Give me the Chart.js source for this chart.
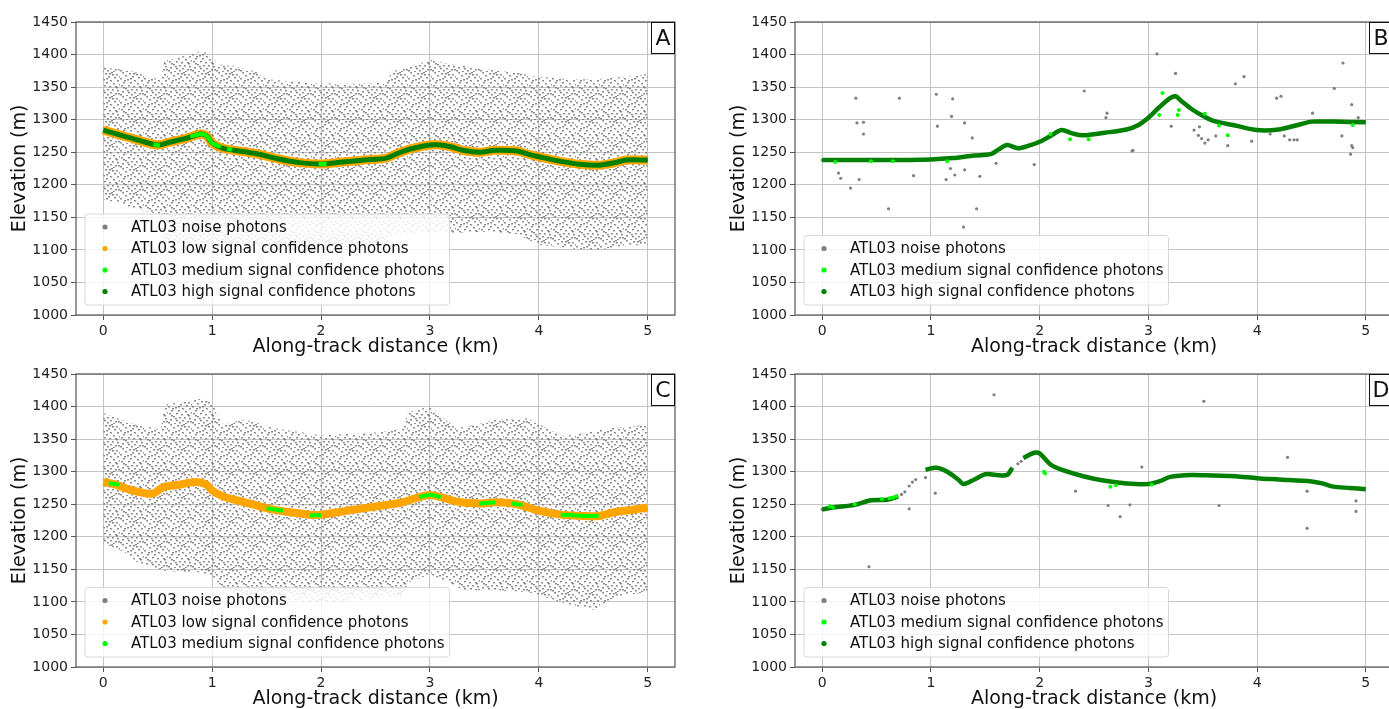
<!DOCTYPE html>
<html>
<head>
<meta charset="utf-8">
<script src="https://cdn.jsdelivr.net/npm/chart.js@4.4.1/dist/chart.umd.min.js"></script>
<style>
  html, body { margin: 0; padding: 0; background: #fff; overflow: hidden; width: 1389px; height: 709px; position: relative; }
  canvas { position: absolute; }
  #panel-a { left: 0; top: 0; }
  #panel-b { left: 719px; top: 0; }
  #panel-c { left: 0; top: 352px; }
  #panel-d { left: 719px; top: 352px; }
</style>
</head>
<body>
<canvas id="panel-a" width="694" height="362"></canvas>
<canvas id="panel-b" width="680" height="362"></canvas>
<canvas id="panel-c" width="694" height="362"></canvas>
<canvas id="panel-d" width="680" height="362"></canvas>
<script>
// axes
const distTicks = [0, 1, 2, 3, 4, 5];
const elevTicks = [1000, 1050, 1100, 1150, 1200, 1250, 1300, 1350, 1400, 1450];

// panel A: noise cloud envelope + surface
const aNoiseKm = [0, 0.25, 0.5, 0.53, 0.56, 0.75, 0.9, 1.0, 1.05, 1.2, 1.4, 1.5, 1.8, 2.0, 2.3, 2.6, 2.65, 2.8, 3.0, 3.2, 3.5, 3.8, 4.0, 4.3, 4.5, 4.8, 5.0];
const aNoiseTop = [1380, 1375, 1362, 1362, 1390, 1398, 1406, 1398, 1385, 1382, 1374, 1362, 1358, 1356, 1355, 1357, 1374, 1380, 1392, 1385, 1378, 1372, 1366, 1362, 1362, 1366, 1370];
const aNoiseBottom = [1178, 1165, 1155, 1150, 1110, 1108, 1108, 1108, 1105, 1103, 1103, 1100, 1102, 1104, 1104, 1106, 1122, 1126, 1128, 1126, 1128, 1124, 1108, 1102, 1100, 1106, 1108];
const aSurfKm = [0, 0.25, 0.5, 0.6, 0.75, 0.9, 0.95, 1.0, 1.1, 1.2, 1.4, 1.6, 1.8, 2.0, 2.2, 2.4, 2.6, 2.7, 2.8, 2.9, 3.0, 3.1, 3.2, 3.3, 3.45, 3.6, 3.8, 3.9, 4.0, 4.2, 4.4, 4.55, 4.7, 4.8, 5.0];
const aHighElev = [1284, 1272, 1261, 1265, 1271, 1278, 1275, 1264, 1256, 1253, 1248, 1240, 1234, 1232, 1235, 1238, 1241, 1248, 1254, 1258, 1261, 1261, 1258, 1253, 1250, 1253, 1252, 1247, 1243, 1236, 1231, 1230, 1234, 1238, 1238];
const aMedKm = [0.46, 0.52, 0.56, 0.8, 0.9, 0.95, 1.0, 1.08, 1.12, 1.14, 1.18, 1.22, 1.98, 2.05];
const aMedElev = [1262, 1260, null, 1274, 1278, 1275, 1264, 1258, null, 1255, 1254, null, 1232, 1232];

// panel B
const bSurfKm = [0, 0.5, 1.0, 1.2, 1.4, 1.55, 1.62, 1.7, 1.8, 1.9, 2.0, 2.1, 2.2, 2.3, 2.4, 2.6, 2.8, 2.9, 3.0, 3.1, 3.2, 3.25, 3.3, 3.4, 3.5, 3.6, 3.8, 4.0, 4.2, 4.4, 4.5, 4.7, 5.0];
const bHighElev = [1238, 1238, 1239, 1241, 1245, 1247, 1254, 1261, 1256, 1260, 1266, 1275, 1284, 1279, 1276, 1280, 1285, 1291, 1303, 1319, 1333, 1336, 1329, 1316, 1306, 1298, 1291, 1284, 1285, 1293, 1297, 1297, 1296];
const bMedKm = [0.12, 0.45, 0.65, 1.15, 2.1, 2.28, 2.45, 3.1, 3.13, 3.27, 3.28, 3.52, 3.65, 3.73, 4.88];
const bMedElev = [1235, 1236, 1236, 1236, 1278, 1270, 1270, 1307, 1341, 1307, 1315, 1309, 1291, 1276, 1292];
const bNoiseKm = [0, 0.15, 0.17, 0.26, 0.31, 0.32, 0.38, 0.38, 0.34, 0.61, 0.71, 0.84, 1.05, 1.06, 1.14, 1.18, 1.19, 1.2, 1.22, 1.31, 1.31, 1.3, 1.38, 1.42, 1.45, 1.6, 1.95, 2.41, 2.62, 2.61, 2.86, 2.85, 3.08, 3.25, 3.21, 3.42, 3.47, 3.46, 3.49, 3.52, 3.55, 3.62, 3.73, 3.8, 3.88, 3.95, 4.12, 4.18, 4.22, 4.25, 4.3, 4.34, 4.37, 4.51, 4.71, 4.78, 4.79, 4.87, 4.87, 4.88, 4.86, 4.93];
const bNoiseElev = [1238, 1218, 1210, 1195, 1333, 1295, 1296, 1278, 1208, 1163, 1333, 1214, 1339, 1290, 1208, 1225, 1305, 1332, 1215, 1295, 1223, 1135, 1272, 1163, 1213, 1233, 1231, 1344, 1310, 1303, 1253, 1252, 1401, 1371, 1290, 1284, 1289, 1276, 1271, 1264, 1269, 1275, 1260, 1355, 1366, 1267, 1278, 1333, 1336, 1275, 1269, 1269, 1269, 1310, 1348, 1275, 1387, 1323, 1260, 1257, 1247, 1303];

// panel C
const cNoiseKm = [0, 0.2, 0.3, 0.5, 0.53, 0.56, 0.7, 0.9, 1.0, 1.1, 1.3, 1.6, 2.0, 2.5, 2.75, 2.8, 3.0, 3.2, 3.3, 3.6, 3.9, 4.2, 4.3, 4.5, 4.7, 5.0];
const cNoiseTop = [1390, 1378, 1372, 1366, 1366, 1404, 1406, 1412, 1405, 1372, 1380, 1366, 1356, 1360, 1366, 1392, 1400, 1372, 1368, 1380, 1382, 1356, 1356, 1362, 1368, 1372];
const cNoiseBottom = [1190, 1176, 1162, 1150, 1150, 1148, 1146, 1145, 1140, 1120, 1110, 1105, 1100, 1105, 1110, 1130, 1142, 1128, 1118, 1118, 1115, 1100, 1095, 1088, 1108, 1115];
const cSurfKm = [0, 0.1, 0.25, 0.45, 0.55, 0.7, 0.85, 0.95, 1.0, 1.1, 1.3, 1.5, 1.7, 1.9, 2.0, 2.2, 2.4, 2.6, 2.75, 2.9, 3.0, 3.1, 3.25, 3.45, 3.6, 3.8, 4.0, 4.2, 4.4, 4.55, 4.7, 4.85, 5.0];
const cLowElev = [1284, 1281, 1272, 1266, 1276, 1280, 1284, 1280, 1271, 1262, 1253, 1244, 1238, 1234, 1234, 1239, 1244, 1249, 1253, 1261, 1264, 1261, 1254, 1251, 1253, 1250, 1240, 1234, 1232, 1232, 1238, 1241, 1245];
const cMedKm = [0.05, 0.15, 0.16, 1.5, 1.65, 1.66, 1.9, 2.0, 2.01, 2.9, 3.0, 3.1, 3.11, 3.45, 3.6, 3.61, 3.75, 3.85, 3.86, 4.2, 4.4, 4.55];
const cMedElev = [1282, 1280, null, 1244, 1240, null, 1233, 1233, null, 1261, 1264, 1261, null, 1251, 1253, null, 1251, 1249, null, 1234, 1232, 1232];

// panel D
const dSurfKm = [0, 0.1, 0.3, 0.45, 0.6, 0.7, 0.72, 0.95, 1.05, 1.15, 1.25, 1.3, 1.4, 1.5, 1.6, 1.7, 1.75, 1.77, 1.85, 1.95, 2.0, 2.1, 2.2, 2.4, 2.6, 2.8, 3.0, 3.1, 3.2, 3.4, 3.6, 3.8, 4.0, 4.2, 4.5, 4.6, 4.7, 4.85, 5.0];
const dHighElev = [1242, 1245, 1249, 1256, 1257, 1262, null, 1303, 1306, 1300, 1288, 1281, 1288, 1296, 1295, 1295, 1306, null, 1321, 1329, 1328, 1311, 1303, 1293, 1286, 1282, 1281, 1285, 1292, 1295, 1294, 1293, 1290, 1288, 1285, 1282, 1277, 1275, 1273];
const dMedKm = [0.07, 0.1, 0.3, 0.55, 0.62, 0.65, 0.68, 2.04, 2.05, 2.65, 2.7, 3.03];
const dMedElev = [1247, 1245, 1250, 1258, 1259, 1260, 1262, 1300, 1297, 1277, 1279, 1280];
const dNoiseKm = [0, 0.43, 0.73, 0.76, 0.8, 0.8, 0.83, 0.86, 0.95, 1.04, 1.58, 1.8, 1.83, 2.33, 2.63, 2.74, 2.83, 2.94, 3.51, 3.65, 4.28, 4.46, 4.46, 4.91, 4.91];
const dNoiseElev = [1242, 1154, 1265, 1269, 1278, 1243, 1284, 1288, 1291, 1267, 1418, 1312, 1316, 1270, 1248, 1231, 1249, 1307, 1408, 1248, 1322, 1270, 1213, 1255, 1239];

const COLORS = { noise: '#808080', low: '#ffa500', medium: '#00ff00', high: '#008000' };
const LABELS = {
  noise: 'ATL03 noise photons',
  low: 'ATL03 low signal confidence photons',
  medium: 'ATL03 medium signal confidence photons',
  high: 'ATL03 high signal confidence photons'
};
const FONT = 'DejaVu Sans';

function pts(xs, ys) {
  return xs.map((x, i) => ({ x, y: ys[i] }));
}

// stipple tile for the dense noise clouds (hand-placed dots)
function noisePattern() {
  const tile = document.createElement('canvas');
  tile.width = 24;
  tile.height = 24;
  const t = tile.getContext('2d');
  t.fillStyle = 'rgba(112,112,112,0.8)';
  const dots = [[2, 0], [9, 1], [15, 0], [20, 2], [5, 3], [12, 4], [18, 5], [23, 4], [0, 6], [7, 7],
    [14, 8], [21, 8], [3, 10], [10, 10], [17, 11], [1, 13], [8, 13], [13, 14], [19, 14], [23, 12],
    [5, 16], [11, 17], [16, 17], [21, 18], [2, 19], [8, 20], [14, 20], [19, 21], [0, 22], [6, 23],
    [11, 22], [17, 23], [22, 21], [4, 8], [16, 2], [10, 6], [20, 15], [7, 18], [13, 1], [3, 15]];
  dots.forEach(([x, y]) => t.fillRect(x, y, 2, 1.5));
  return t.createPattern(tile, 'repeat');
}

function lineSet(label, data, color, width, order) {
  return { label, data, showLine: true, borderColor: color, backgroundColor: color, borderWidth: width,
    pointRadius: 0, tension: 0.3, spanGaps: false, fill: false, order };
}

function pointSet(label, data, color, radius, order) {
  return { label, data, showLine: false, pointRadius: radius, pointBackgroundColor: color,
    pointBorderWidth: 0, borderColor: color, backgroundColor: color, fill: false, order };
}

function cloudSets(km, top, bottom) {
  return [
    { label: 'noiseTop', data: pts(km, top), showLine: true, borderWidth: 0, pointRadius: 0,
      fill: '+1', backgroundColor: noisePattern(), tension: 0, order: 9 },
    { label: 'noiseBottom', data: pts(km, bottom), showLine: true, borderWidth: 0, pointRadius: 0,
      fill: false, tension: 0, order: 10 }
  ];
}

const decor = {
  id: 'decor',
  afterDraw(chart, args, opts) {
    const { ctx, chartArea: ca } = chart;
    ctx.save();
    // frame
    ctx.strokeStyle = '#555';
    ctx.lineWidth = 1.2;
    ctx.strokeRect(ca.left, ca.top, ca.right - ca.left, ca.bottom - ca.top);

    // legend box
    const items = opts.items;
    const rowH = 21.5;
    ctx.font = `15px "${FONT}"`;
    const textW = Math.max(...items.map((k) => ctx.measureText(LABELS[k]).width));
    const bx = ca.left + 9;
    const bh = items.length * rowH + 5;
    const by = ca.bottom - 10 - bh;
    const bw = 46 + textW + 5;
    ctx.fillStyle = 'rgba(255,255,255,0.8)';
    ctx.strokeStyle = '#d8d8d8';
    ctx.lineWidth = 1;
    ctx.beginPath();
    ctx.roundRect(bx, by, bw, bh, 3);
    ctx.fill();
    ctx.stroke();
    items.forEach((k, i) => {
      const cy = by + 13 + i * rowH;
      ctx.fillStyle = COLORS[k];
      ctx.beginPath();
      ctx.arc(bx + 20, cy, 2.6, 0, Math.PI * 2);
      ctx.fill();
      ctx.fillStyle = '#111';
      ctx.textBaseline = 'middle';
      ctx.textAlign = 'left';
      ctx.fillText(LABELS[k], bx + 46, cy + 1);
    });

    // panel letter
    const lw = 24, lh = 32;
    ctx.fillStyle = '#fff';
    ctx.fillRect(ca.right - lw, ca.top, lw, lh);
    ctx.strokeStyle = '#111';
    ctx.strokeRect(ca.right - lw + 0.5, ca.top + 0.5, lw - 1, lh - 1);
    ctx.fillStyle = '#111';
    ctx.font = `22px "${FONT}"`;
    ctx.textAlign = 'center';
    ctx.textBaseline = 'middle';
    ctx.fillText(opts.letter, ca.right - lw / 2, ca.top + lh / 2 + 1);
    ctx.restore();
  }
};

function makePanel(id, letter, items, datasets, padRight) {
  return new Chart(document.getElementById(id), {
    type: 'line',
    data: { datasets },
    plugins: [decor],
    options: {
      responsive: false,
      animation: false,
      events: [],
      layout: { padding: { left: 0, top: 22, right: padRight, bottom: 0 } },
      plugins: {
        legend: { display: false },
        tooltip: { enabled: false },
        decor: { letter, items }
      },
      scales: {
        x: {
          type: 'linear',
          min: -0.25,
          max: 5.25,
          afterBuildTicks: (s) => { s.ticks = distTicks.map((v) => ({ value: v })); },
          afterFit: (s) => { s.height = 47; },
          grid: { color: '#c4c4c4', lineWidth: 1, tickLength: 5, tickColor: '#555' },
          border: { display: false },
          ticks: { font: { family: FONT, size: 14 }, color: '#222', padding: 3, maxRotation: 0,
            callback: (v) => String(v) },
          title: { display: true, text: 'Along-track distance (km)', font: { family: FONT, size: 19 },
            color: '#111', padding: { top: 0, bottom: 3.5 } }
        },
        y: {
          min: 1000,
          max: 1450,
          afterBuildTicks: (s) => { s.ticks = elevTicks.map((v) => ({ value: v })); },
          afterFit: (s) => { s.width = 76; },
          grid: { color: '#c4c4c4', lineWidth: 1, tickLength: 5, tickColor: '#555' },
          border: { display: false },
          ticks: { font: { family: FONT, size: 14 }, color: '#222', padding: 3,
            callback: (v) => String(v) },
          title: { display: true, text: 'Elevation (m)', font: { family: FONT, size: 19 },
            color: '#111', padding: { top: 8.5, bottom: 0 } }
        }
      }
    }
  });
}

makePanel('panel-a', 'A', ['noise', 'low', 'medium', 'high'], [
  lineSet(LABELS.medium, pts(aMedKm, aMedElev), COLORS.medium, 4, 0),
  lineSet(LABELS.high, pts(aSurfKm, aHighElev), COLORS.high, 5, 1),
  lineSet(LABELS.low, pts(aSurfKm, aHighElev), COLORS.low, 9, 2),
  ...cloudSets(aNoiseKm, aNoiseTop, aNoiseBottom)
], 19);

makePanel('panel-b', 'B', ['noise', 'medium', 'high'], [
  pointSet(LABELS.medium, pts(bMedKm, bMedElev), COLORS.medium, 2, 0),
  lineSet(LABELS.high, pts(bSurfKm, bHighElev), COLORS.high, 4.5, 1),
  pointSet(LABELS.noise, pts(bNoiseKm, bNoiseElev), COLORS.noise, 1.6, 3)
], 6);

makePanel('panel-c', 'C', ['noise', 'low', 'medium'], [
  lineSet(LABELS.medium, pts(cMedKm, cMedElev), COLORS.medium, 4, 0),
  lineSet(LABELS.low, pts(cSurfKm, cLowElev), COLORS.low, 8, 2),
  ...cloudSets(cNoiseKm, cNoiseTop, cNoiseBottom)
], 19);

makePanel('panel-d', 'D', ['noise', 'medium', 'high'], [
  pointSet(LABELS.medium, pts(dMedKm, dMedElev), COLORS.medium, 2, 0),
  lineSet(LABELS.high, pts(dSurfKm, dHighElev), COLORS.high, 4.5, 1),
  pointSet(LABELS.noise, pts(dNoiseKm, dNoiseElev), COLORS.noise, 1.6, 3)
], 6);
</script>
</body>
</html>
